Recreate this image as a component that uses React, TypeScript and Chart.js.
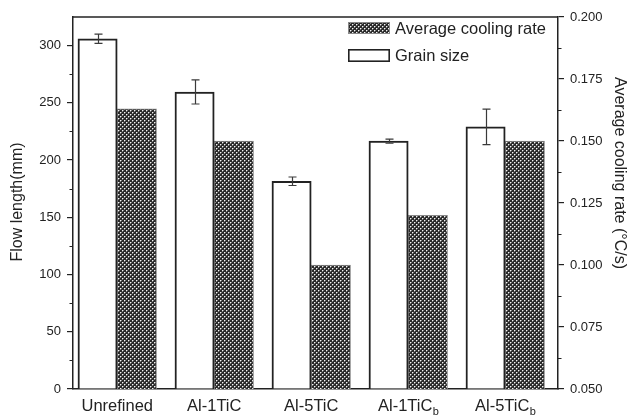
import React, { useEffect, useRef } from "react";
import { Chart, registerables } from "chart.js";

Chart.register(...registerables);

// ---- data ----
const categories = ["Unrefined", "Al-1TiC", "Al-5TiC", "Al-1TiC", "Al-5TiC"];
const categorySubscripts = ["", "", "", "b", "b"];
const grainSize = [306, 259.5, 181.5, 216.5, 229];
const grainSizeError = [4, 10.5, 3.7, 1.8, 15.5];
const coolingRate = [0.163, 0.15, 0.1, 0.12, 0.15];

const leftMin = 0;
const leftMax = 325;
const leftStep = 50;
const rightMin = 0.05;
const rightMax = 0.2;
const rightStep = 0.025;
const xMin = -0.456;
const xMax = 4.544;

const legendLabels = ["Average cooling rate", "Grain size"];
const leftTitle = "Flow length(mm)";
const rightTitle = "Average cooling rate (°C/s)";

const FONT = "'Liberation Sans', Arial, sans-serif";
const INK = "#222";
const BAR_THICKNESS = 39.3;

function makePattern(): CanvasPattern | string {
  const c = document.createElement("canvas");
  c.width = 4;
  c.height = 4;
  const g = c.getContext("2d");
  if (!g) return "#444";
  g.fillStyle = "#2a2a2a";
  g.fillRect(0, 0, 4, 4);
  g.fillStyle = "#f4f4f4";
  g.fillRect(0, 0, 1, 1);
  g.fillRect(2, 2, 1, 1);
  g.fillStyle = "#808080";
  g.fillRect(1, 0, 1, 1);
  g.fillRect(0, 1, 1, 1);
  g.fillRect(3, 2, 1, 1);
  g.fillRect(2, 3, 1, 1);
  const p = g.createPattern(c, "repeat");
  return p || "#444";
}

export default function App() {
  const ref = useRef<HTMLCanvasElement | null>(null);

  useEffect(() => {
    const canvas = ref.current;
    if (!canvas) return;
    const pattern = makePattern();

    const overlay = {
      id: "overlay",
      afterDatasetsDraw(chart: any) {
        const ctx = chart.ctx as CanvasRenderingContext2D;
        const ca = chart.chartArea;
        const y = chart.scales.y;
        const y1 = chart.scales.y1;
        ctx.save();

        // error bars
        const meta = chart.getDatasetMeta(0);
        const meta1 = chart.getDatasetMeta(1);
        ctx.strokeStyle = "#3a3a3a";
        ctx.lineWidth = 1.2;
        meta.data.forEach((bar: any, i: number) => {
          const cx = Math.round(bar.x) + 0.5;
          const top = y.getPixelForValue(grainSize[i] + grainSizeError[i]);
          const bot = y.getPixelForValue(grainSize[i] - grainSizeError[i]);
          ctx.beginPath();
          ctx.moveTo(cx, top);
          ctx.lineTo(cx, bot);
          ctx.moveTo(cx - 4, top);
          ctx.lineTo(cx + 4, top);
          ctx.moveTo(cx - 4, bot);
          ctx.lineTo(cx + 4, bot);
          ctx.stroke();
        });

        // top frame line
        ctx.strokeStyle = INK;
        ctx.lineWidth = 1.5;
        ctx.beginPath();
        ctx.moveTo(ca.left, ca.top);
        ctx.lineTo(ca.right, ca.top);
        ctx.stroke();

        // minor ticks
        ctx.lineWidth = 1.2;
        ctx.beginPath();
        for (let v = leftMin + leftStep / 2; v < leftMax; v += leftStep) {
          const py = Math.round(y.getPixelForValue(v)) + 0.5;
          ctx.moveTo(ca.left - 3.5, py);
          ctx.lineTo(ca.left, py);
        }
        for (let v = rightMin + rightStep / 2; v < rightMax; v += rightStep) {
          const py = Math.round(y1.getPixelForValue(v)) + 0.5;
          ctx.moveTo(ca.right, py);
          ctx.lineTo(ca.right + 3.5, py);
        }
        ctx.stroke();

        // legend
        const lx = 348;
        ctx.fillStyle = pattern as any;
        ctx.fillRect(lx, 22, 42, 12);
        ctx.strokeStyle = "#888";
        ctx.lineWidth = 1;
        ctx.strokeRect(lx + 0.5, 22.5, 41, 11);
        ctx.fillStyle = "#fff";
        ctx.fillRect(lx, 49, 42, 13);
        ctx.strokeStyle = INK;
        ctx.lineWidth = 1.6;
        ctx.strokeRect(lx + 0.8, 49.8, 40.4, 11.4);
        ctx.fillStyle = INK;
        ctx.font = `16.5px ${FONT}`;
        ctx.textAlign = "left";
        ctx.textBaseline = "middle";
        ctx.fillText(legendLabels[0], 395, 29);
        ctx.fillText(legendLabels[1], 395, 56.5);

        // x labels with subscripts
        categories.forEach((label, i) => {
          const cx = (meta.data[i].x + meta1.data[i].x) / 2;
          ctx.font = `16.5px ${FONT}`;
          const w1 = ctx.measureText(label).width;
          const sub = categorySubscripts[i];
          let w2 = 0;
          if (sub) {
            ctx.font = `11px ${FONT}`;
            w2 = ctx.measureText(sub).width;
          }
          const start = cx - (w1 + w2) / 2;
          ctx.textAlign = "left";
          ctx.textBaseline = "alphabetic";
          ctx.font = `16.5px ${FONT}`;
          ctx.fillText(label, start, 411);
          if (sub) {
            ctx.font = `11px ${FONT}`;
            ctx.fillText(sub, start + w1 + 0.5, 415);
          }
        });

        // axis titles
        ctx.font = `16px ${FONT}`;
        ctx.textAlign = "center";
        ctx.textBaseline = "middle";
        ctx.save();
        ctx.translate(17.5, 202);
        ctx.rotate(-Math.PI / 2);
        ctx.fillText(leftTitle, 0, 0);
        ctx.restore();
        ctx.save();
        ctx.translate(619, 173);
        ctx.rotate(Math.PI / 2);
        ctx.fillText(rightTitle, 0, 0);
        ctx.restore();

        ctx.restore();
      },
    };

    const chart = new Chart(canvas, {
      type: "bar",
      data: {
        datasets: [
          {
            label: legendLabels[1],
            data: grainSize.map((v, i) => ({ x: i, y: v })),
            backgroundColor: "#ffffff",
            borderColor: INK,
            borderWidth: 2,
            barThickness: BAR_THICKNESS,
            yAxisID: "y",
            xAxisID: "x",
          },
          {
            label: legendLabels[0],
            data: coolingRate.map((v, i) => ({ x: i, y: v })),
            backgroundColor: pattern as any,
            borderColor: "#8a8a8a",
            borderWidth: 1,
            barThickness: BAR_THICKNESS,
            yAxisID: "y1",
            xAxisID: "x",
          },
        ],
      },
      options: {
        responsive: false,
        animation: false,
        devicePixelRatio: 1,
        layout: { padding: { top: 17, left: 0, right: 0, bottom: 0 } },
        plugins: { legend: { display: false }, tooltip: { enabled: false } },
        scales: {
          x: {
            type: "linear",
            position: "bottom",
            min: xMin,
            max: xMax,
            offset: false,
            grid: { display: false },
            ticks: { display: false },
            border: { display: true, color: INK, width: 1.5 },
            afterFit: (s: any) => {
              s.height = 27;
            },
          },
          y: {
            type: "linear",
            position: "left",
            min: leftMin,
            max: leftMax,
            grid: { display: true, drawOnChartArea: false, drawTicks: true, tickLength: 6, color: INK, lineWidth: 1.2 },
            border: { display: true, color: INK, width: 1.5 },
            ticks: {
              stepSize: leftStep,
              includeBounds: false,
              padding: 6,
              color: INK,
              font: { family: FONT, size: 13 },
            },
            afterFit: (s: any) => {
              s.width = 73;
            },
          },
          y1: {
            type: "linear",
            position: "right",
            min: rightMin,
            max: rightMax,
            grid: { display: true, drawOnChartArea: false, drawTicks: true, tickLength: 6, color: INK, lineWidth: 1.2 },
            border: { display: true, color: INK, width: 1.5 },
            ticks: {
              stepSize: rightStep,
              includeBounds: false,
              padding: 6,
              color: INK,
              font: { family: FONT, size: 13 },
              callback: (v: any) => Number(v).toFixed(3),
            },
            afterFit: (s: any) => {
              s.width = 75;
            },
          },
        },
      } as any,
      plugins: [overlay],
    });

    return () => chart.destroy();
  }, []);

  return (
    <div style={{ position: "fixed", left: 0, top: 0, width: 633, height: 416, background: "#fff" }}>
      <canvas ref={ref} width={633} height={416} style={{ display: "block" }} />
    </div>
  );
}
